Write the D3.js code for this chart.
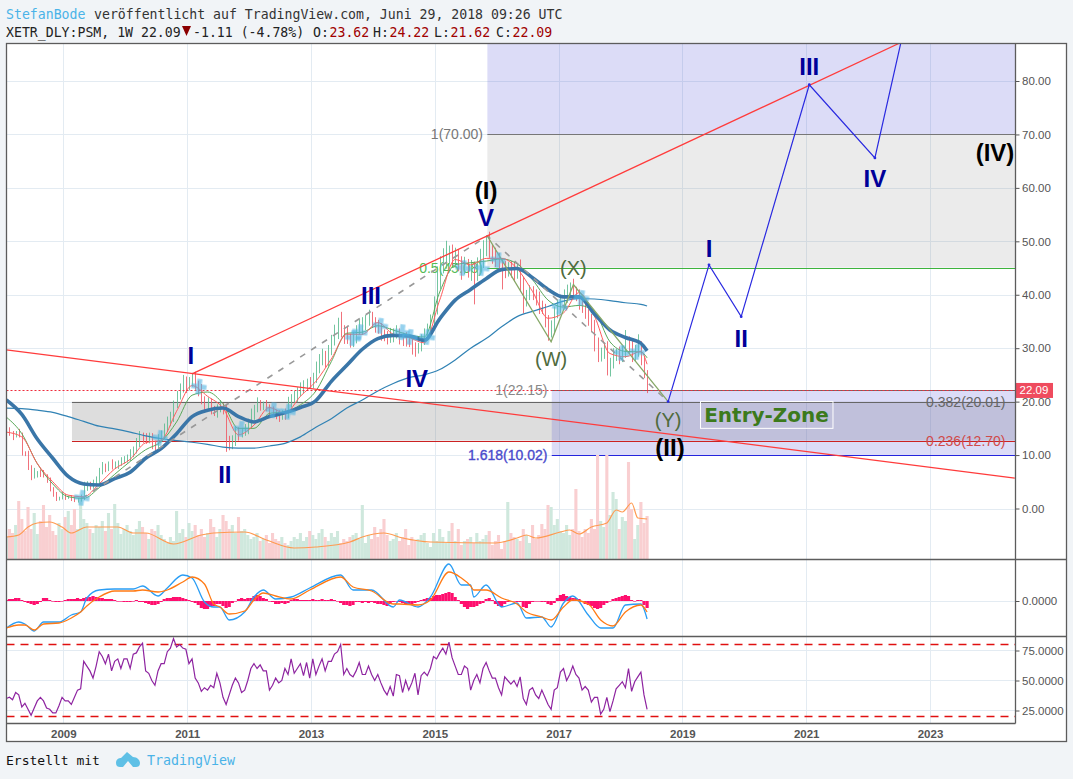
<!DOCTYPE html>
<html><head><meta charset="utf-8">
<script src="https://cdn.jsdelivr.net/npm/d3@7"></script>
<style>
html,body{margin:0;padding:0;background:#f1f4f7;overflow:hidden}
text{font-family:"Liberation Sans",Arial,sans-serif}
.mono{font-family:"DejaVu Sans Mono",monospace}
</style></head><body><svg id="c" width="1073" height="779"></svg>
<script>
// ---------- data (weekly-ish samples, one every 0.05 year from firstYear) ----------
const firstYear = 2008.08, stepYear = 0.05;
const closes = [
14.3,14.0,13.6,14.2,13.8,10.5,10.2,7.6,5.9,6.4,
6.6,6.3,6.1,5.3,3.6,2.5,1.8,1.9,2.4,2.0,
2.1,1.7,1.4,1.6,2.0,3.6,4.5,4.2,4.8,5.2,
6.8,7.7,7.4,8.2,7.8,8.1,8.5,8.8,9.2,9.4,
10.2,11.0,12.0,13.5,13.3,12.8,13.2,12.1,12.0,13.0,
13.8,15.2,16.2,17.2,19.6,21.0,22.6,23.8,22.8,23.6,
24.4,23.2,22.4,20.4,19.4,19.8,18.6,18.2,18.8,19.2,
18.6,12.8,11.9,12.6,14.5,14.1,14.3,14.8,15.6,17.4,
18.6,19.6,19.3,19.4,18.9,18.4,18.0,17.6,17.4,17.8,
17.6,19.8,20.6,21.0,21.8,22.3,23.0,23.5,23.2,24.4,
26.3,27.6,28.4,27.6,29.6,31.3,32.8,34.2,33.4,33.0,
31.8,31.1,32.2,33.3,34.1,34.4,35.0,35.7,35.0,34.3,
33.8,32.8,32.2,32.0,32.6,32.9,33.0,32.1,32.0,31.5,
31.2,30.4,30.0,30.2,31.6,32.8,33.4,34.8,37.5,42.5,
45.2,46.4,47.6,48.0,46.8,47.2,46.2,45.4,45.8,44.6,
45.0,44.2,45.6,46.2,49.0,50.2,48.4,47.4,46.6,45.6,
45.0,44.6,45.2,44.8,44.2,45.0,42.0,39.0,40.0,40.6,
40.2,39.4,38.0,37.6,35.2,33.0,33.8,36.6,38.0,38.6,
39.6,41.0,41.8,40.6,40.0,38.6,37.6,36.6,35.4,34.2,
31.0,28.4,29.3,29.8,25.8,27.0,28.4,28.9,28.4,29.2,
31.2,30.2,28.4,29.4,30.4,28.0,25.4,22.09];
const wickUp = [
0.6,0.9,0.5,0.3,0.7,0.4,0.2,0.6,0.5,1.2,
0.4,0.7,0.9,0.3,0.5,0.4,0.6,0.3,0.8,0.3,
0.3,0.4,0.5,0.4,0.6,1.4,0.6,0.5,0.6,0.8,
0.8,1.0,0.7,0.6,1.0,0.7,0.5,0.8,0.6,0.7,
0.9,0.6,1.2,1.0,0.7,0.8,1.0,0.9,0.6,0.9,
0.8,0.7,1.0,0.9,0.6,1.0,0.8,1.2,0.9,1.0,
1.0,1.2,0.7,0.9,0.6,1.0,0.8,0.6,0.7,1.1,
0.5,1.0,0.8,1.1,0.9,0.7,0.8,1.0,1.2,1.3,
0.8,1.2,0.7,0.6,0.9,0.6,0.7,0.5,0.8,0.6,
0.9,1.1,0.8,1.0,0.9,1.3,1.0,0.8,1.1,1.0,
1.2,1.3,1.5,1.1,1.0,1.2,1.6,1.5,2.6,0.9,
1.2,0.9,0.8,1.0,1.3,1.4,1.2,1.5,1.1,0.8,
1.0,0.9,0.7,1.0,1.2,0.8,1.3,0.7,0.8,1.0,
0.6,0.9,0.7,0.8,1.0,0.9,1.2,1.5,2.2,2.8,
2.0,2.3,2.5,1.2,1.4,1.6,1.2,1.0,1.3,0.9,
1.5,1.2,1.4,2.4,1.2,0.9,1.6,1.0,1.4,1.2,
1.0,1.3,0.9,1.1,1.4,0.8,1.6,1.4,0.9,1.2,
1.0,0.8,1.2,0.9,0.7,1.0,1.4,1.2,1.1,1.4,
1.4,0.9,0.5,1.2,0.9,1.0,0.8,1.1,0.7,1.0,
1.1,1.0,0.8,1.2,1.5,1.2,1.6,1.0,1.4,1.2,
2.2,1.0,1.3,1.2,2.2,0.9,0.6,0.5];
const wickDown = [
0.5,0.4,0.8,0.3,0.5,0.6,0.4,0.4,0.6,0.3,
0.6,0.4,0.3,0.5,0.4,0.3,0.4,0.3,0.2,0.4,
0.2,0.3,0.2,0.3,0.3,0.4,0.3,0.7,0.5,0.4,
0.5,0.4,0.6,0.4,0.5,0.4,0.7,0.5,0.4,0.6,
0.5,0.6,0.7,0.5,1.0,0.7,0.6,1.0,1.2,0.8,
0.6,0.7,0.9,0.8,1.0,0.8,0.6,0.9,1.2,0.7,
0.8,1.0,1.4,0.9,1.1,0.8,1.0,0.9,1.2,0.8,
1.0,2.2,1.0,0.8,0.9,1.4,0.8,0.7,0.9,0.6,
0.8,0.6,1.0,0.9,0.7,1.1,0.8,0.9,1.2,0.8,
1.0,0.7,0.9,0.8,1.1,0.8,0.7,1.0,0.8,0.7,
0.9,1.0,0.8,1.2,1.0,0.9,0.8,1.1,1.4,2.2,
1.0,1.0,0.9,1.3,0.8,1.6,1.0,0.8,1.2,1.4,
1.1,1.4,0.9,1.3,1.0,1.5,1.1,1.4,1.6,1.2,
1.0,1.6,1.6,1.0,0.8,1.0,1.1,0.9,1.2,1.2,
1.4,1.2,1.5,1.8,1.3,1.5,1.8,2.6,1.6,1.4,
2.0,6.0,1.6,1.4,1.2,1.8,1.5,1.6,1.4,1.2,
4.0,1.5,1.2,1.6,1.8,1.2,1.4,2.5,1.2,1.0,
1.2,1.4,1.6,1.2,1.3,1.6,1.0,1.2,1.0,1.4,
1.0,1.1,1.4,1.0,1.2,1.4,1.0,1.1,1.2,1.2,
1.6,1.0,0.9,1.3,0.9,1.1,0.8,0.8,1.4,1.0,
1.0,1.2,1.0,0.8,1.0,1.2,1.0,0.5];
const volume = [
22,30,26,34,58,40,28,52,30,46,
25,38,54,32,44,28,24,36,30,42,
48,34,50,30,62,40,36,30,26,34,
32,38,28,46,30,55,36,25,30,34,
28,24,30,38,32,26,20,30,28,34,
24,20,16,22,18,48,26,30,22,36,
28,34,24,30,22,26,40,32,22,30,
44,38,30,34,26,42,28,30,24,20,
22,26,18,20,24,16,26,20,18,22,
16,14,18,22,20,26,18,22,28,24,
20,26,30,22,18,26,22,28,16,20,
18,22,24,26,20,54,16,24,20,32,
22,30,40,24,18,20,26,18,22,30,
14,22,18,20,24,26,16,12,26,18,
30,22,16,28,36,18,30,14,18,20,
22,16,26,18,20,24,28,14,18,24,
10,18,57,26,22,20,18,30,24,16,
34,20,24,35,30,54,52,34,40,28,
26,34,24,30,70,28,22,30,26,40,
30,104,38,32,104,44,67,60,30,42,
38,97,50,20,34,57,36,43];
const macdHist = [
0.1,0.2,0.2,0.3,0.3,0.1,-0.1,-0.2,-0.3,-0.4,
-0.3,-0.1,0.3,0.3,0.1,0,-0.1,-0.1,0,0.1,
0.2,0.2,0.2,0.3,0.2,0.3,0.4,0.4,0.5,0.4,
0.3,0.3,0.2,0.2,0.2,0.1,0,0,-0.1,-0.1,
-0.1,0,0.1,-0.1,-0.1,-0.2,-0.3,-0.4,-0.4,-0.3,
-0.1,0.2,0.3,0.3,0.4,0.4,0.4,0.3,0.2,0.1,
-0.1,-0.2,-0.4,-0.7,-0.8,-0.8,-0.6,-0.5,-0.3,-0.3,
-0.5,-0.7,-0.6,-0.2,0,0.2,0.3,0.2,0.3,0.3,
0.5,0.6,0.5,0.3,0.2,0,-0.1,-0.3,-0.3,-0.2,
-0.3,-0.2,0.1,0.2,0.2,0.1,0.1,0.1,0.1,0.2,
0.1,0.1,0.2,0.1,0.1,0.2,0.1,0,-0.2,-0.4,
-0.4,-0.5,-0.4,-0.1,-0.1,-0.2,-0.1,-0.2,-0.1,-0.2,
-0.3,-0.3,-0.4,-0.5,-0.3,-0.1,0,-0.1,-0.2,-0.3,
-0.4,-0.4,-0.2,-0.1,0.1,0.2,0.3,0.3,0.5,0.6,
0.6,0.7,0.8,0.9,0.8,0.4,0.1,-0.3,-0.6,-0.8,
-0.6,-0.6,-0.5,-0.3,-0.2,0.2,0.3,0.1,-0.3,-0.5,
-0.6,-0.3,-0.1,0,0,-0.1,-0.1,-0.6,-0.7,-0.3,
-0.1,0,0,-0.1,-0.1,-0.3,-0.4,-0.2,0.3,0.6,
0.7,0.5,0.4,0.3,0.3,0.2,-0.1,-0.3,-0.4,-0.5,
-0.7,-0.8,-0.7,-0.4,-0.2,0,0.2,0.3,0.4,0.5,
0.6,0.5,0.1,0,0.1,0.1,-0.4,-0.7];
const rsi = [
35,36,34,40,38,28,31,26,21,27,
33,36,33,27,26,23,23,29,36,33,
33,30,36,42,43,66,62,58,52,62,
74,70,64,72,58,66,68,60,68,68,
60,72,73,78,81,58,56,50,46,58,
64,64,74,77,85,78,80,77,76,64,
68,52,48,41,44,42,46,44,56,48,
36,30,38,46,52,48,40,42,50,60,
64,60,63,58,58,42,46,52,48,50,
60,55,68,56,60,64,54,65,52,68,
55,62,68,58,66,66,72,74,80,55,
60,55,53,58,65,55,55,62,55,50,
55,48,42,38,45,37,55,54,40,50,
42,48,56,38,54,57,54,60,70,68,
73,77,72,82,69,62,55,55,62,60,
42,50,55,48,60,65,58,52,52,44,
38,53,50,47,50,45,53,35,30,42,
44,38,35,42,36,30,26,42,44,57,
60,50,55,62,55,52,42,45,42,32,
36,36,22,26,36,24,33,43,46,49,
44,60,41,49,53,57,38,26];

// moving averages: sample index into the weekly arrays
const maIdx = [0,5,10,15,20,25,30,35,40,45,50,55,60,65,70,75,80,85,90,95,100,105,110,115,120,125,130,135,140,145,150,155,160,165,170,175,180,185,190,195,200,205,207];
const maThick = [20.3,17.6,13.0,9.4,6.0,4.6,4.4,5.6,6.8,9.4,11.2,14.0,17.2,18.4,18.8,17.2,16.2,17.2,17.9,18.9,20.2,23.8,26.8,29.8,31.8,32.4,32.3,31.5,35.5,39.0,41.0,43.0,44.7,44.9,43.2,41.0,39.6,39.6,36.4,33.4,32.0,30.9,29.5];
const maLong = [18.8,18.7,18.4,18.0,17.2,16.3,15.4,14.9,14.3,13.6,13.1,12.7,12.4,12.0,11.5,11.3,11.3,11.7,12.2,13.4,15.2,16.8,18.8,20.3,22.0,23.4,24.5,25.0,26.0,27.8,30.0,31.8,34.0,35.9,36.9,37.8,38.8,39.3,39.2,38.9,38.5,38.2,37.9];
const maRed = [14.3,13.4,8.4,5.0,2.5,2.2,4.6,7.4,9.2,12.3,12.8,18.2,23.0,21.0,18.8,13.8,15.6,18.9,17.8,21.0,23.8,28.0,32.6,32.6,34.8,32.6,32.0,31.0,39.0,46.6,45.6,46.8,46.8,44.9,40.6,35.6,36.6,40.4,36.0,29.0,28.4,29.4,27.0];
const maGreen = [17.1,14.0,8.4,4.6,2.2,1.9,3.9,6.4,8.8,11.0,12.5,16.2,21.2,21.8,19.6,15.0,15.0,17.8,18.1,19.4,22.0,27.5,32.8,33.0,34.2,33.4,32.5,32.1,40.5,45.6,46.0,46.3,46.7,45.8,42.8,39.0,37.7,38.0,36.8,31.2,29.4,29.3,28.2];

const volMaIdx = [0,4,7,10,14,18,21,26,36,41,45,54,63,67,77,84,93,100,111,115,122,128,137,158,165,168,171,179,182,185,189,194,197,199,202,204,207];
const volMa = [22,24,32,36,37,32,26,32,32,26,26,15,24,26,27,19,11,12,17,22,26,21,17,16,21,24,21,27,29,25,32,36,49,47,56,41,40];

const macdIdx = [0,4,6,9,12,17,21,24,26,30,35,41,44,49,52,57,60,64,67,69,72,77,80,83,87,92,98,108,112,118,125,127,133,137,143,147,150,151,155,160,165,168,173,176,180,183,188,192,196,200,205,207];
const macdFast = [-2.7,-2.1,-2.3,-3.0,-2.1,-2.1,-1.4,-1.1,0.3,1.1,1.2,1.2,1.5,0.5,1.3,2.6,2.3,-0.1,-0.6,-0.6,-1.9,-1.1,0.4,1.1,0.2,0.4,1.3,2.6,1.1,1.1,-0.6,0.1,-0.6,0.4,3.7,1.6,1.6,0.4,1.6,-0.6,-0.2,-1.7,-1.6,-2.6,-0.2,0.5,-1.4,-2.7,-2.7,-0.4,-0.3,-1.8];
const macdSlow = [-2.7,-2.4,-2.4,-2.9,-2.3,-2.2,-1.7,-1.1,-0.5,0.4,1.0,1.0,1.1,0.9,1.1,1.9,2.4,1.7,-0.3,-0.6,-1.3,-1.0,0.1,0.8,0.5,0.2,1.1,2.4,1.4,1.0,-0.3,-0.3,-0.4,0.1,2.9,2.3,1.5,1.1,1.1,0.3,-0.3,-1.1,-1.6,-1.9,-0.6,0.1,-0.3,-1.9,-2.5,-1.1,-0.4,-1.1];

// crossing markers
const crossYears = [2009.30,2010.56,2011.19,2011.87,2012.39,2012.63,2013.68,2013.79,2014.12,2014.47,2014.60,2014.88,2015.46,2015.76,2016.02,2017.02,2017.37,2018.02,2018.27];
const crossPrices = [2.0,13.2,22.8,14.9,18.4,18.1,31.9,33.0,34.2,33.0,32.1,32.1,45.0,45.0,46.5,37.7,39.4,29.1,29.3];

// drawings
const zigYears = [2018.77,2019.43,2019.95,2021.05,2022.11,2022.53];
const zigPrices = [20.01,45.6,35.9,79.3,65.6,87.2];
const wxyYears = [2015.85,2016.88,2017.24,2018.77];
const wxyPrices = [51,31.2,41.9,20.0];
const dashYears = [2009.30,2015.85,2018.77];
const dashPrices = [1.9,51,20.01];
const trendUpYears = [2011.08,2022.53], trendUpPrices = [25.2,87.2];
const trendDownYears = [2008.08,2024.37], trendDownPrices = [29.7,5.7];
const lastPrice = 22.09;

// wave labels
const waveText = ["I","II","III","IV","V","I","II","III","IV"];
const waveYears = [2011.06,2011.61,2013.97,2014.71,2015.83,2019.43,2019.95,2021.05,2022.11];
const wavePrices = [28.6,6.3,39.8,24.4,54.4,48.6,31.9,82.7,61.7];
const blackText = ["(I)","(II)","(IV)"];
const blackYears = [2015.83,2018.80,2024.05];
const blackPrices = [59.5,11.5,66.6];
const olivText = ["(W)","(X)","(Y)"];
const olivYears = [2016.88,2017.24,2018.77];
const olivPrices = [28,45,16.6];

const yearTicks = [2009,2011,2013,2015,2017,2019,2021,2023];
const priceTicks = [0,10,20,30,40,50,60,70,80];
const rsiTicks = [25,50,75];
const macdTicks = [0];

// ---------- layout ----------
const L=6.5,R=1015.5,RR=1066.5,T=43.5,B1=559.5,B2=636.5,B3=723.5,BB=741.5;
const svg=d3.select("#c");
const x=d3.scaleLinear().domain([2009,2023]).range([63.3,930]);
const y=d3.scaleLinear().domain([0,80]).range([508.5,81]);
const yVol=d3.scaleLinear().domain([0,100]).range([559,459]);
const yM=d3.scaleLinear().domain([0,1]).range([601,591]);
const yR=d3.scaleLinear().domain([25,75]).range([710.5,650.5]);
const xi=i=>x(firstYear+stepYear*i);

svg.append("rect").attr("x",L).attr("y",T).attr("width",RR-L).attr("height",BB-T).attr("fill","#fff");
const defs=svg.append("defs");
[["p",T,B1],["m",B1,B2],["r",B2,B3]].forEach(([id,a,b])=>defs.append("clipPath").attr("id",id).append("rect").attr("x",L).attr("y",a).attr("width",R-L).attr("height",b-a));
defs.append("filter").attr("id","soft").append("feGaussianBlur").attr("stdDeviation",0.7);
const P=svg.append("g").attr("clip-path","url(#p)");
const M=svg.append("g").attr("clip-path","url(#m)");
const S=svg.append("g").attr("clip-path","url(#r)");
const GRID="#e3ebf2";
[P,M,S].forEach((g,k)=>{
  const [a,b]=[[T,B1],[B1,B2],[B2,B3]][k];
  g.selectAll("line.v").data(yearTicks).join("line").attr("x1",d=>Math.round(x(d))+.5).attr("x2",d=>Math.round(x(d))+.5).attr("y1",a).attr("y2",b).attr("stroke",GRID);
});
P.selectAll("line.h").data(priceTicks).join("line").attr("x1",L).attr("x2",R).attr("y1",d=>Math.round(y(d))+.5).attr("y2",d=>Math.round(y(d))+.5).attr("stroke",GRID);
M.selectAll("line.h").data(macdTicks).join("line").attr("x1",L).attr("x2",R).attr("y1",d=>yM(d)+.5).attr("y2",d=>yM(d)+.5).attr("stroke",GRID);
S.selectAll("line.h").data(rsiTicks).join("line").attr("x1",L).attr("x2",R).attr("y1",d=>yR(d)).attr("y2",d=>yR(d)).attr("stroke",GRID);

// fib boxes
const box=(y0,p0,p1,fill)=>P.append("rect").attr("x",x(y0)).attr("y",y(p1)).attr("width",R-x(y0)).attr("height",y(p0)-y(p1)).attr("fill",fill);
const hl=(y0,p,col)=>P.append("line").attr("x1",x(y0)).attr("x2",R).attr("y1",Math.round(y(p))+.5).attr("y2",Math.round(y(p))+.5).attr("stroke",col).attr("stroke-width",1.2);
const fib=(y0,p,txt,col,sw)=>P.append("text").attr("x",x(y0)).attr("y",y(p)+5).attr("text-anchor","end").attr("fill",col).attr("stroke",sw?col:"none").attr("stroke-width",sw||0).attr("font-size",14).text(txt);
box(2015.85,70,87.5,"rgba(80,80,215,.2)");
box(2015.85,45.08,70,"rgba(120,120,120,.15)");
box(2009.14,12.7,20.01,"rgba(120,120,120,.25)");
box(2016.89,10.02,22.15,"rgba(80,80,215,.2)");
hl(2015.85,70,"#777");
hl(2015.85,45.08,"#3db33d");
hl(2009.14,20.01,"#666");
hl(2009.14,12.7,"#cc2222");
hl(2016.89,22.15,"#666");
hl(2016.89,10.02,"#2424dd");
fib(2015.78,70,"1(70.00)","#777");
fib(2015.78,45.08,"0.5(45.08)","#55bb55");
fib(2016.82,22.15,"1(22.15)","#888");
fib(2016.82,10.02,"1.618(10.02)","#4a4acc",0.35);
fib(2024.22,20.01,"0.382(20.01)","#666");
fib(2024.22,12.7,"0.236(12.70)","#d04a4a");

// volume
P.selectAll("rect.vol").data(volume).join("rect").attr("x",(d,i)=>xi(i)-1.55).attr("width",3.1)
 .attr("y",d=>yVol(d)).attr("height",d=>yVol(0)-yVol(d))
 .attr("fill",(d,i)=>(i&&closes[i]<closes[i-1])?"#f9cfd1":"#cfe8dd");
const lineV=d3.line().x(d=>xi(d[0])).y(d=>yVol(d[1])).curve(d3.curveMonotoneX);
P.append("path").attr("d",lineV(d3.zip(volMaIdx,volMa))).attr("fill","none").attr("stroke","#ff9a50").attr("stroke-width",1.2);

// candles
P.selectAll("line.c").data(closes).join("line")
 .attr("x1",(d,i)=>Math.round(xi(i))+.5).attr("x2",(d,i)=>Math.round(xi(i))+.5)
 .attr("y1",(d,i)=>y(Math.max(d,i?closes[i-1]:d)+wickUp[i])).attr("y2",(d,i)=>y(Math.min(d,i?closes[i-1]:d)-wickDown[i]))
 .attr("stroke",(d,i)=>(i&&d<closes[i-1])?"#ef5a66":"#5cbb90").attr("stroke-width",1).attr("opacity",.85);

// moving averages
const lineMA=d3.line().x(d=>xi(d[0])).y(d=>y(d[1])).curve(d3.curveMonotoneX);
const addMA=(vals,col,w)=>P.append("path").attr("d",lineMA(d3.zip(maIdx,vals))).attr("fill","none").attr("stroke",col).attr("stroke-width",w);
addMA(maLong,"#3082b4",1.2);
addMA(maGreen,"#5aa85a",1);
addMA(maRed,"#ff5c5c",1);
addMA(maThick,"#3a76a8",3.6);

// trend lines and drawings
const lineP=d3.line().x(d=>x(d[0])).y(d=>y(d[1]));
const draw=(ys,ps,col,w,dash)=>P.append("path").attr("d",lineP(d3.zip(ys,ps))).attr("fill","none").attr("stroke",col).attr("stroke-width",w).attr("stroke-dasharray",dash||null);
draw(dashYears,dashPrices,"#999",1.6,"6,7");
draw(wxyYears,wxyPrices,"#86a868",1.3);
draw(trendUpYears,trendUpPrices,"#ff3b3b",1.3);
draw(trendDownYears,trendDownPrices,"#ff3b3b",1.3);
draw(zigYears,zigPrices,"#2a2ae0",1.2);
P.selectAll("circle.z").data(d3.zip(zigYears,zigPrices)).join("circle").attr("cx",d=>x(d[0])).attr("cy",d=>y(d[1])).attr("r",1.4).attr("fill","#2a2ae0");
P.append("line").attr("x1",L).attr("x2",R).attr("y1",Math.round(y(lastPrice))+.5).attr("y2",Math.round(y(lastPrice))+.5).attr("stroke","#ee2c3c").attr("stroke-dasharray","2,2");

// crossing markers
P.selectAll("path.x").data(d3.zip(crossYears,crossPrices)).join("path")
 .attr("d",d3.symbol(d3.symbolCross,130))
 .attr("transform",d=>`translate(${x(d[0])},${y(d[1])}) rotate(8)`).attr("fill","#55b6e4").attr("opacity",.62).attr("filter","url(#soft)");

// labels
const labels=(txt,ys,ps,col,size,w)=>P.selectAll(null).data(txt).join("text").attr("x",(d,i)=>x(ys[i])).attr("y",(d,i)=>y(ps[i])).attr("dy",".36em").attr("text-anchor","middle").attr("fill",col).attr("font-size",size).attr("font-weight",w).text(d=>d);
labels(waveText,waveYears,wavePrices,"#000099",24,"bold");
labels(blackText,blackYears,blackPrices,"#000",24,"bold");
labels(olivText,olivYears,olivPrices,"#4f6b3d",20,"normal");

// entry zone
const ezY0=2019.29, ezY1=2021.43, ezP0=20.01, ezP1=15;
P.append("rect").attr("x",Math.round(x(ezY0))+.5).attr("y",y(ezP0)).attr("width",x(ezY1)-x(ezY0)).attr("height",y(ezP1)-y(ezP0)).attr("fill","none").attr("stroke","#fff");
P.append("text").attr("x",(x(ezY0)+x(ezY1))/2).attr("y",y((ezP0+ezP1)/2)).attr("dy",".36em").attr("text-anchor","middle").attr("fill","#3c7a1c").attr("font-size",20).attr("font-weight","bold").style("font-family","'DejaVu Sans',sans-serif").text("Entry-Zone");

// macd
M.selectAll("rect.h").data(macdHist).join("rect").attr("x",(d,i)=>xi(i)-1.6).attr("width",3.2)
 .attr("y",d=>Math.min(yM(d),yM(0))).attr("height",d=>Math.max(.6,Math.abs(yM(d)-yM(0)))).attr("fill","#ff0f6e");
const lineM=d3.line().x(d=>xi(d[0])).y(d=>yM(d[1])).curve(d3.curveMonotoneX);
M.append("path").attr("d",lineM(d3.zip(macdIdx,macdFast))).attr("fill","none").attr("stroke","#2a9df4").attr("stroke-width",1.3);
M.append("path").attr("d",lineM(d3.zip(macdIdx,macdSlow))).attr("fill","none").attr("stroke","#ff7a14").attr("stroke-width",1.3);

// rsi
[20,80].forEach(v=>S.append("line").attr("x1",L).attr("x2",R).attr("y1",yR(v)).attr("y2",yR(v)).attr("stroke","#e01010").attr("stroke-width",1.4).attr("stroke-dasharray","8,6"));
S.append("path").attr("d",d3.line().x((d,i)=>xi(i)).y(d=>yR(d))(rsi)).attr("fill","none").attr("stroke","#8e24a0").attr("stroke-width",1.2);

// axes
const styleAxis=g=>{g.select(".domain").remove();g.selectAll("line").attr("stroke","#555");g.selectAll("text").attr("fill","#555").attr("font-size",11.5).style("font-family",'"Liberation Sans",Arial,sans-serif');};
svg.append("g").attr("transform",`translate(${R},0)`).call(d3.axisRight(y).tickValues(priceTicks).tickFormat(d3.format(".2f")).tickSize(4).tickPadding(2.5)).call(styleAxis);
svg.append("g").attr("transform",`translate(${R},0)`).call(d3.axisRight(yM).tickValues(macdTicks).tickFormat(d3.format(".4f")).tickSize(4).tickPadding(2.5)).call(styleAxis);
svg.append("g").attr("transform",`translate(${R},0)`).call(d3.axisRight(yR).tickValues(rsiTicks).tickFormat(d3.format(".4f")).tickSize(4).tickPadding(2.5)).call(styleAxis);
svg.append("g").attr("transform",`translate(0,${B3-8})`).call(d3.axisBottom(x).tickValues(yearTicks).tickFormat(d3.format("d")).tickSize(0).tickPadding(14)).call(styleAxis).selectAll("text").attr("font-weight","bold");

// last price tag
svg.append("rect").attr("x",1015).attr("y",y(lastPrice)-7.5).attr("width",38).attr("height",15).attr("fill","#ef4b5e");
svg.append("text").attr("x",1034).attr("y",y(lastPrice)+4).attr("text-anchor","middle").attr("fill","#fff").attr("font-size",11.5).text(lastPrice.toFixed(2));

// frame
const fr=svg.append("g").attr("stroke","#5c5c5c").attr("stroke-width",1.3).attr("fill","none");
fr.append("rect").attr("x",L).attr("y",T).attr("width",RR-L).attr("height",BB-T);
fr.append("line").attr("x1",R).attr("x2",R).attr("y1",T).attr("y2",B3);
fr.append("line").attr("x1",L).attr("x2",RR).attr("y1",B1).attr("y2",B1);
fr.append("line").attr("x1",L).attr("x2",RR).attr("y1",B2).attr("y2",B2);
fr.append("line").attr("x1",L).attr("x2",R).attr("y1",B3).attr("y2",B3);

// header
const head=(tx,px,py,col,size)=>svg.append("text").attr("class","mono").attr("x",px).attr("y",py).attr("fill",col).attr("font-size",size||13.2).text(tx);
head("StefanBode",6,18.5,"#4ab3e8");
head("veröffentlicht auf TradingView.com, Juni 29, 2018 09:26 UTC",94,18.5,"#333");
head("XETR_DLY:PSM, 1W 22.09",6,36.5,"#222");
svg.append("path").attr("d","M182 26 L191 26 L186.5 36 Z").attr("fill","#8b0000");
head("-1.11 (-4.78%)",193,36.5,"#222");
[["O:","23.62",313],["H:","24.22",373],["L:","21.62",434],["C:","22.09",496]].forEach(([k,v,px])=>{head(k,px,36.5,"#222");head(v,px+16.5,36.5,"#a00000");});

// footer
head("Erstellt mit",6,765,"#111",13);
svg.append("path").attr("d","M116 763 C116 759 119 758 121 758 L127 752 L133 757 C137 757 140 760 140 763 C140 766 138 767 136 767 L133 767 L128 761 L123 767 L120 767 C118 767 116 766 116 763 Z").attr("fill","#5fc0e6");
head("TradingView",147,765,"#4ab3e8",13.3);
</script></body></html>
